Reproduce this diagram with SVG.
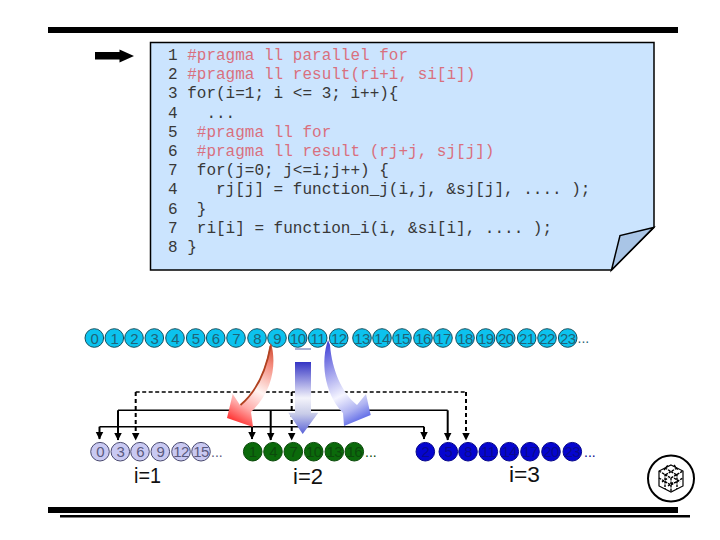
<svg xmlns="http://www.w3.org/2000/svg" width="720" height="540" viewBox="0 0 720 540">
<style>
.code{font-family:"Liberation Mono","Courier New",monospace;font-size:16px;fill:#383838;white-space:pre}
.prag{fill:#d9707e}
.n{font-family:"Liberation Sans",Arial,sans-serif;font-size:15px;letter-spacing:-.6px;text-anchor:middle}
.t circle{fill:#0cc2ee;stroke:#17505f;stroke-width:1}
.t text{fill:#1f6478}
.a circle{fill:#c9c9f2;stroke:#4a4a70;stroke-width:1}
.a text{fill:#5a5a80}
.g circle{fill:#0b6a0b;stroke:#0b4a0b;stroke-width:1}
.g text{fill:#0c4a0c}
.b circle{fill:#0505cf;stroke:#06068a;stroke-width:1}
.b text{fill:#0a0a90}
.dots{font-family:"Liberation Sans",Arial,sans-serif;font-size:14px;fill:#333}
.lab{font-family:"Liberation Sans",Arial,sans-serif;font-size:22px;fill:#111}
.s{fill:none;stroke:#000;stroke-width:2}
.h{fill:none;stroke:#000;stroke-width:1.5}
.d{fill:none;stroke:#000;stroke-width:2;stroke-dasharray:4 3}
.dh{fill:none;stroke:#000;stroke-width:1.5;stroke-dasharray:4 2.5}
</style>
<defs>
<marker id="ah" markerUnits="userSpaceOnUse" markerWidth="9" markerHeight="9" refX="7.5" refY="4" orient="auto">
<path d="M0 0L8 4L0 8Z" fill="#000"/>
</marker>
<linearGradient id="red" gradientUnits="userSpaceOnUse" x1="275" y1="345" x2="232" y2="422">
<stop offset="0" stop-color="#c84428"/><stop offset=".22" stop-color="#f58a7c"/><stop offset=".55" stop-color="#fff4f2"/><stop offset=".78" stop-color="#ffaaa8"/><stop offset="1" stop-color="#ff2a2a"/>
</linearGradient>
<linearGradient id="blu" gradientUnits="userSpaceOnUse" x1="326" y1="345" x2="366" y2="422">
<stop offset="0" stop-color="#4646d8"/><stop offset=".25" stop-color="#8f8fe8"/><stop offset=".6" stop-color="#f4f4ff"/><stop offset=".8" stop-color="#b0b4f2"/><stop offset="1" stop-color="#4a58e4"/>
</linearGradient>
<linearGradient id="dwn" gradientUnits="userSpaceOnUse" x1="0" y1="362" x2="0" y2="434">
<stop offset="0" stop-color="#3434c4"/><stop offset=".5" stop-color="#f4f4fb"/><stop offset=".72" stop-color="#c8cce8"/><stop offset="1" stop-color="#5a62d8"/>
</linearGradient>
</defs>

<g id="rules">
<rect x="48" y="27" width="630" height="6" fill="#000"/>
<rect x="48" y="507" width="630" height="6" fill="#000"/>
<rect x="60" y="515" width="630" height="2.5" fill="#000"/>
</g>

<g id="pointer">
<path d="M95 52H119.5V49.5L134 56L119.5 62.5V59.5H95Z" fill="#000"/>
</g>

<g id="code-note">
<path d="M150.500 42.500H654V227.500L611.500 270H150.500Z" fill="#cbe4fe" stroke="#000" stroke-width="1.500"/>
<path d="M653.500 227.500L620 235.500L611.500 270Z" fill="#a9c5e6" stroke="#000" stroke-width="1.500"/>
<text class="code" x="168" y="60">1 <tspan class="prag">#pragma ll parallel for</tspan></text>
<text class="code" x="168" y="79.200">2 <tspan class="prag">#pragma ll result(ri+i, si[i])</tspan></text>
<text class="code" x="168" y="98.400">3 for(i=1; i &lt;= 3; i++){</text>
<text class="code" x="168" y="117.600">4   ...</text>
<text class="code" x="168" y="136.800">5  <tspan class="prag">#pragma ll for</tspan></text>
<text class="code" x="168" y="156">6  <tspan class="prag">#pragma ll result (rj+j, sj[j])</tspan></text>
<text class="code" x="168" y="175.200">7  for(j=0; j&lt;=i;j++) {</text>
<text class="code" x="168" y="194.400">4    rj[j] = function_j(i,j, &amp;sj[j], .... );</text>
<text class="code" x="168" y="213.600">6  }</text>
<text class="code" x="168" y="232.800">7  ri[i] = function_i(i, &amp;si[i], .... );</text>
<text class="code" x="168" y="252">8 }</text>
</g>

<g id="connectors">
<path class="h" d="M99.500 426.700H424"/>
<path class="h" d="M118 410.300H447.700"/>
<path class="dh" d="M135.700 392H466"/>
<path class="s" d="M99.500 426.700V439" marker-end="url(#ah)"/>
<path class="s" d="M252 426.700V439" marker-end="url(#ah)"/>
<path class="s" d="M424 426.700V439" marker-end="url(#ah)"/>
<path class="s" d="M118 410.300V440" marker-end="url(#ah)"/>
<path class="s" d="M270.700 410.300V440" marker-end="url(#ah)"/>
<path class="s" d="M447.700 410.300V440" marker-end="url(#ah)"/>
<path class="d" d="M135.700 392V440" marker-end="url(#ah)"/>
<path class="d" d="M291.700 392V440" marker-end="url(#ah)"/>
<path class="d" d="M466 392V440" marker-end="url(#ah)"/>
</g>

<g id="source-row" class="t">
<g id="s0"><circle cx="94.300" cy="338" r="9.300"/><text class="n" x="94.300" y="343.500">0</text></g>
<g id="s1"><circle cx="114.300" cy="338" r="9.300"/><text class="n" x="114.300" y="343.500">1</text></g>
<g id="s2"><circle cx="134" cy="338" r="9.300"/><text class="n" x="134" y="343.500">2</text></g>
<g id="s3"><circle cx="154.300" cy="338" r="9.300"/><text class="n" x="154.300" y="343.500">3</text></g>
<g id="s4"><circle cx="175" cy="338" r="9.300"/><text class="n" x="175" y="343.500">4</text></g>
<g id="s5"><circle cx="195.700" cy="338" r="9.300"/><text class="n" x="195.700" y="343.500">5</text></g>
<g id="s6"><circle cx="215.700" cy="338" r="9.300"/><text class="n" x="215.700" y="343.500">6</text></g>
<g id="s7"><circle cx="236" cy="338" r="9.300"/><text class="n" x="236" y="343.500">7</text></g>
<g id="s8"><circle cx="257" cy="338" r="9.300"/><text class="n" x="257" y="343.500">8</text></g>
<g id="s9"><circle cx="277" cy="338" r="9.300"/><text class="n" x="277" y="343.500">9</text></g>
<g id="s10"><circle cx="297.700" cy="338" r="9.300"/><text class="n" x="297.700" y="343.500">10</text></g>
<g id="s11"><circle cx="317.700" cy="338" r="9.300"/><text class="n" x="317.700" y="343.500">11</text></g>
<g id="s12"><circle cx="338.700" cy="338" r="9.300"/><text class="n" x="338.700" y="343.500">12</text></g>
<g id="s13"><circle cx="362" cy="338" r="9.300"/><text class="n" x="362" y="343.500">13</text></g>
<g id="s14"><circle cx="382" cy="338" r="9.300"/><text class="n" x="382" y="343.500">14</text></g>
<g id="s15"><circle cx="402" cy="338" r="9.300"/><text class="n" x="402" y="343.500">15</text></g>
<g id="s16"><circle cx="423" cy="338" r="9.300"/><text class="n" x="423" y="343.500">16</text></g>
<g id="s17"><circle cx="443" cy="338" r="9.300"/><text class="n" x="443" y="343.500">17</text></g>
<g id="s18"><circle cx="465" cy="338" r="9.300"/><text class="n" x="465" y="343.500">18</text></g>
<g id="s19"><circle cx="485.700" cy="338" r="9.300"/><text class="n" x="485.700" y="343.500">19</text></g>
<g id="s20"><circle cx="505.700" cy="338" r="9.300"/><text class="n" x="505.700" y="343.500">20</text></g>
<g id="s21"><circle cx="526.700" cy="338" r="9.300"/><text class="n" x="526.700" y="343.500">21</text></g>
<g id="s22"><circle cx="547" cy="338" r="9.300"/><text class="n" x="547" y="343.500">22</text></g>
<g id="s23"><circle cx="567.700" cy="338" r="9.300"/><text class="n" x="567.700" y="343.500">23</text></g>
<text class="dots" x="577.500" y="343">...</text>
</g>
<path d="M295 349H311" stroke="#5060a8" stroke-width="1" fill="none"/>

<g id="big-arrows">
<path id="arrow-red" d="M271 343C276 360 275 390 251 412L253 427L227 418L232.700 394L240 405C255 393 266 370 270 345Z" fill="url(#red)"/>
<path d="M270.500 346C266 371 256 392 240.500 405" fill="none" stroke="#b04220" stroke-width="1.800"/>
<path id="arrow-down" d="M295 362H311V412.700H318.300L302.700 434L288.300 412.700H295Z" fill="url(#dwn)"/>
<path id="arrow-blue" d="M328 340C321 360 323 392 343 413L344 426L370.700 415L366 394L357 405C342 393 332 370 330 345Z" fill="url(#blu)"/>
</g>

<g id="row-i1" class="a">
<g id="a0"><circle cx="100" cy="451.700" r="9.300"/><text class="n" x="100" y="457">0</text></g>
<g id="a3"><circle cx="120.300" cy="451.700" r="9.300"/><text class="n" x="120.300" y="457">3</text></g>
<g id="a6"><circle cx="140" cy="451.700" r="9.300"/><text class="n" x="140" y="457">6</text></g>
<g id="a9"><circle cx="160.300" cy="451.700" r="9.300"/><text class="n" x="160.300" y="457">9</text></g>
<g id="a12"><circle cx="181" cy="451.700" r="9.300"/><text class="n" x="181" y="457">12</text></g>
<g id="a15"><circle cx="201" cy="451.700" r="9.300"/><text class="n" x="201" y="457">15</text></g>
<text class="dots" x="211" y="456.700">...</text>
</g>
<g id="row-i2" class="g">
<g id="g1"><circle cx="252.700" cy="451.700" r="9.300"/><text class="n" x="252.700" y="457">1</text></g>
<g id="g4"><circle cx="273" cy="451.700" r="9.300"/><text class="n" x="273" y="457">4</text></g>
<g id="g7"><circle cx="293.300" cy="451.700" r="9.300"/><text class="n" x="293.300" y="457">7</text></g>
<g id="g10"><circle cx="313.700" cy="451.700" r="9.300"/><text class="n" x="313.700" y="457">10</text></g>
<g id="g13"><circle cx="334.300" cy="451.700" r="9.300"/><text class="n" x="334.300" y="457">13</text></g>
<g id="g16"><circle cx="354.300" cy="451.700" r="9.300"/><text class="n" x="354.300" y="457">16</text></g>
<text class="dots" x="365" y="456.700">...</text>
</g>
<g id="row-i3" class="b">
<g id="b2"><circle cx="425.300" cy="451.700" r="9.300"/><text class="n" x="425.300" y="457">2</text></g>
<g id="b5"><circle cx="448.300" cy="451.700" r="9.300"/><text class="n" x="448.300" y="457">5</text></g>
<g id="b8"><circle cx="468" cy="451.700" r="9.300"/><text class="n" x="468" y="457">8</text></g>
<g id="b11"><circle cx="488.300" cy="451.700" r="9.300"/><text class="n" x="488.300" y="457">11</text></g>
<g id="b14"><circle cx="509.300" cy="451.700" r="9.300"/><text class="n" x="509.300" y="457">14</text></g>
<g id="b17"><circle cx="530" cy="451.700" r="9.300"/><text class="n" x="530" y="457">17</text></g>
<g id="b20"><circle cx="551" cy="451.700" r="9.300"/><text class="n" x="551" y="457">20</text></g>
<g id="b23"><circle cx="572.300" cy="451.700" r="9.300"/><text class="n" x="572.300" y="457">23</text></g>
<text class="dots" x="584" y="456.700">...</text>
</g>

<g id="labels">
<text class="lab" x="134" y="483" textLength="27" lengthAdjust="spacingAndGlyphs">i=1</text>
<text class="lab" x="293" y="484" textLength="30" lengthAdjust="spacingAndGlyphs">i=2</text>
<text class="lab" x="509" y="482" textLength="31" lengthAdjust="spacingAndGlyphs">i=3</text>
</g>

<g id="logo" fill="none" stroke="#000">
<circle cx="671" cy="478.500" r="23" stroke-width="2" fill="#fff"/>
<path d="M671 465L683 471V486L671 492L659 486V471Z" stroke-width="1.200"/>
<path d="M659 471L671 478L683 471M671 478V492M665 468L677 475M677 468L665 475M659 478L671 485L683 478M665 474V489M677 474V489M662 482L668 478M674 478L680 482M668 486L674 482M664 470L668 465M674 465L678 470" stroke-width="1.400" stroke-dasharray="2.500 1"/>
</g>
</svg>
